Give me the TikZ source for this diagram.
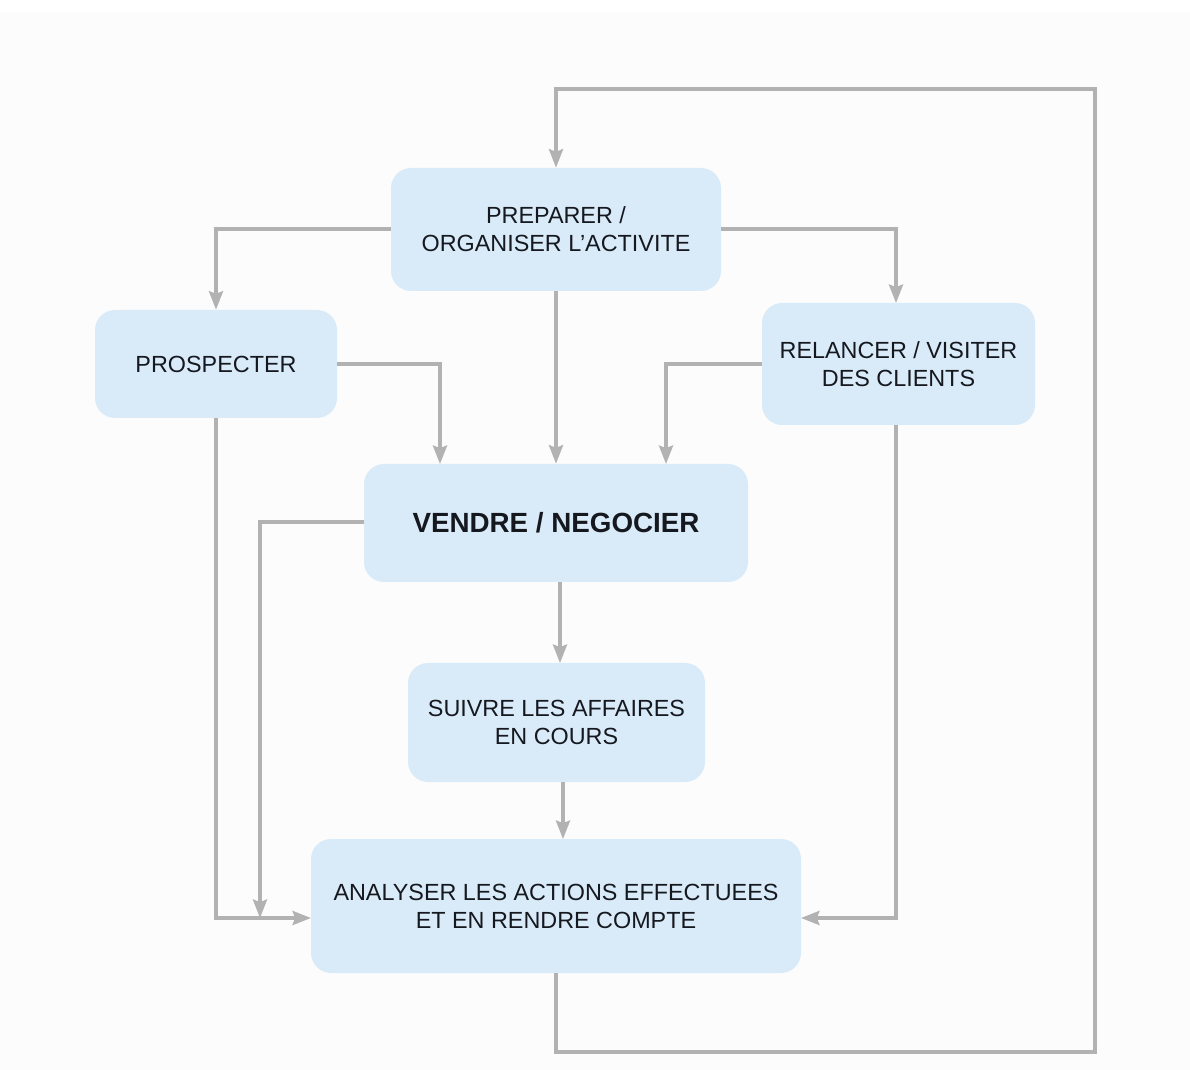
\documentclass[tikz,border=0pt]{standalone}
\usepackage{fontspec}
\setmainfont{Liberation Sans}
\usetikzlibrary{arrows.meta,calc}
\definecolor{boxfill}{HTML}{D9EBF8}
\definecolor{linegray}{HTML}{B2B2B2}
\definecolor{txt}{HTML}{16181F}
\definecolor{bg}{HTML}{FCFCFC}
\tikzset{
  box/.style={draw=none, fill=boxfill, rounded corners=0.4cm, align=center,
    text=txt, inner sep=0pt, font=\fontsize{13.3}{15.9}\selectfont},
  arr/.style={draw=linegray, line width=1.9pt,
    -{Stealth[length=10.5pt,width=8pt,inset=1.5pt]}},
  ln/.style={draw=linegray, line width=1.9pt}
}
\begin{document}
\begin{tikzpicture}[x=0.02cm,y=-0.02cm]
\useasboundingbox (0,0) rectangle (1190,1070);
\fill[white] (0,0) rectangle (1190,1070);
\fill[bg] (0,12) rectangle (1190,1070);

\node[box, minimum width=330*0.02cm, minimum height=123*0.02cm] (prep) at (556,229.5) {PREPARER /\\ORGANISER L’ACTIVITE};
\node[box, minimum width=242*0.02cm, minimum height=108*0.02cm] (pros) at (216,364) {PROSPECTER};
\node[box, minimum width=273*0.02cm, minimum height=122*0.02cm] (rel) at (898.5,364) {RELANCER / VISITER\\DES CLIENTS};
\node[box, minimum width=384*0.02cm, minimum height=118*0.02cm, font=\fontsize{15.8}{18}\selectfont\bfseries] (vend) at (556,523) {VENDRE / NEGOCIER};
\node[box, minimum width=297*0.02cm, minimum height=119*0.02cm] (suiv) at (556.5,722.5) {SUIVRE LES AFFAIRES\\EN COURS};
\node[box, minimum width=490*0.02cm, minimum height=134*0.02cm] (ana) at (556,906) {ANALYSER LES ACTIONS EFFECTUEES\\ET EN RENDRE COMPTE};

% helper coordinates
\coordinate (lb) at (556,1052);
\coordinate (rb) at (1095,1052);
\coordinate (rt) at (1095,89);
\coordinate (lt) at (556,89);
\coordinate (v1) at (440,464);
\coordinate (v2) at (666,464);
\coordinate (jv) at (260,918);
\coordinate (aL) at (311,918);
\coordinate (aR) at (801,918);
\coordinate (prL) at (391,229);
\coordinate (prR) at (721,229);
\coordinate (relN) at (896,303);
\coordinate (relS) at (896,425);
\coordinate (vendS) at (560,582);
\coordinate (suivN) at (560,663);
\coordinate (suivS) at (563,782);
\coordinate (anaN) at (563,839);
\coordinate (vendW) at (364,522);

% loop
\draw[arr] (ana.south) -- (lb) -- (rb) -- (rt) -- (lt) -- (prep.north);
% from prep
\draw[arr] (prL) -| (pros.north);
\draw[arr] (prR) -| (relN);
\draw[arr] (prep.south) -- (vend.north);
% into vendre
\draw[arr] (pros.east) -| (v1);
\draw[arr] (rel.west) -| (v2);
% vendre -> suivre -> analyser
\draw[arr] (vendS) -- (suivN);
\draw[arr] (suivS) -- (anaN);
% side paths
\draw[arr] (vendW) -| (jv);
\draw[arr] (pros.south) |- (aL);
\draw[arr] (relS) |- (aR);
\end{tikzpicture}
\end{document}
